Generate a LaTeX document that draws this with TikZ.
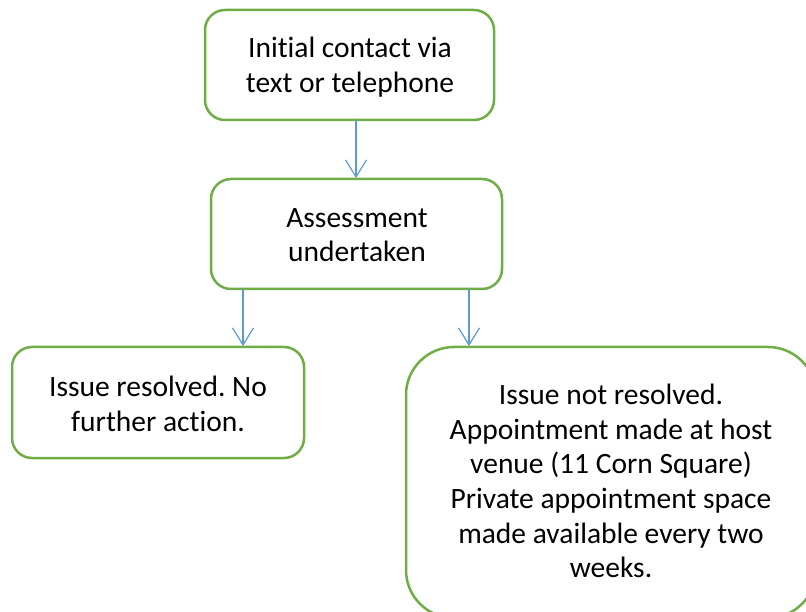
\documentclass[tikz,border=0pt]{standalone}
\usepackage{fontspec}
\setmainfont{Carlito}[Ligatures=NoCommon]
\usetikzlibrary{arrows.meta}
\definecolor{boxgreen}{HTML}{70AD47}
\definecolor{arrblue}{HTML}{5B9BD5}
\frenchspacing
\begin{document}
\begin{tikzpicture}[x=1pt,y=-1pt,
  flowbox/.style={draw=boxgreen,line width=2.5pt,rounded corners=20pt,fill=white},
  bigbox/.style={draw=boxgreen,line width=2.5pt,rounded corners=48pt,fill=white},
  boxtext/.style={font=\fontsize{29.5}{34.6}\selectfont,align=center},
  conn/.style={draw=arrblue,line width=1.2pt,-{Straight Barb[length=17pt,width=21pt,line width=1.2pt]}}]
\useasboundingbox (0,0) rectangle (806,612);
\draw[flowbox] (205,10) rectangle (494,120);
\node[boxtext] (t1) at (350,67) {Initial contact via\\text or telephone};
\draw[flowbox] (211,179) rectangle (502,289);
\node[boxtext] (t2) at (357,235) {Assessment\\undertaken};
\draw[flowbox] (12,347) rectangle (304,458);
\node[boxtext] (t3) at (158,404) {Issue resolved. No\\further action.};
\draw[bigbox] (406,347) rectangle (816,618);
\node[boxtext] (t4) at (611,481) {Issue not resolved.\\Appointment made at host\\venue (11 Corn Square)\\Private appointment space\\made available every two\\weeks.};
\coordinate (a1s) at (356,120); \coordinate (a1e) at (356,178);
\coordinate (a2s) at (243,289); \coordinate (a2e) at (243,346);
\coordinate (a3s) at (469,289); \coordinate (a3e) at (469,346);
\draw[conn] (a1s) -- (a1e);
\draw[conn] (a2s) -- (a2e);
\draw[conn] (a3s) -- (a3e);
\end{tikzpicture}
\end{document}
